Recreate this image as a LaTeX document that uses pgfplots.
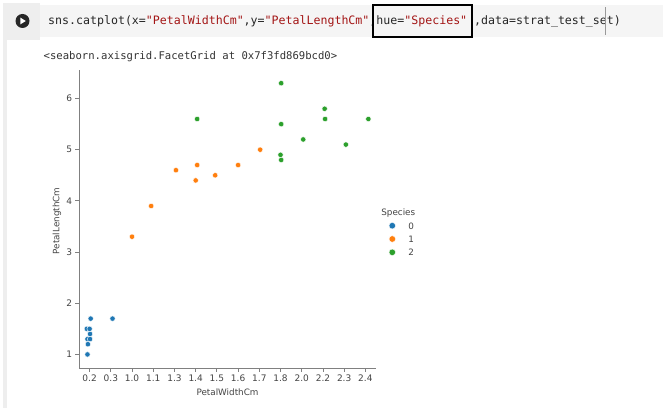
\documentclass[border=0pt]{standalone}
\usepackage{pgfplots}
\pgfplotsset{compat=1.18}
\usepackage{fontspec}
\setmainfont{DejaVu Sans}
\setmonofont{DejaVu Sans Mono}
\definecolor{c0}{HTML}{1F77B4}
\definecolor{c1}{HTML}{FF7F0E}
\definecolor{c2}{HTML}{2CA02C}
\definecolor{strc}{HTML}{A31515}
\definecolor{codebg}{HTML}{F5F5F5}
\definecolor{gutter}{HTML}{EEEEEE}
\definecolor{spine}{HTML}{808080}
\definecolor{ticklab}{HTML}{444444}
\begin{document}
\begin{tikzpicture}
\path[use as bounding box, fill=white] (0,0) rectangle (663bp,408bp);
\fill[gutter] (3bp,368bp) rectangle (40bp,405bp);
\fill[codebg] (40bp,371bp) rectangle (663bp,403bp);
\fill[gutter] (3bp,0bp) rectangle (7bp,368bp);
\fill[black!85] (22.5bp,387bp) circle (7bp);
\fill[white] (20.3bp,383.6bp) -- (20.3bp,390.4bp) -- (25.8bp,387bp) -- cycle;
\node[anchor=base west, inner sep=0pt, font=\fontsize{11.6bp}{13bp}\ttfamily, text=black!85] at (48bp,383bp)
 {sns.catplot(x=\textcolor{strc}{"PetalWidthCm"},y=\textcolor{strc}{"PetalLengthCm"},hue=\textcolor{strc}{"Species"} ,data=strat\_test\_set)};
\draw[black, line width=1.3bp] (373bp,371bp) rectangle (472bp,403bp);
\draw[black!40, line width=0.5bp] (605bp,373bp) -- (605bp,401bp);
\node[anchor=base west, inner sep=0pt, font=\fontsize{10.6bp}{12bp}\ttfamily, text=black!80] at (43.5bp,348bp)
 {<seaborn.axisgrid.FacetGrid at 0x7f3fd869bcd0>};
\node[anchor=base, inner sep=0pt, font=\fontsize{8.8bp}{10bp}\selectfont, text=ticklab] at (398.3bp,192.5bp) {Species};
\begin{axis}[
  at={(79bp,40bp)}, anchor=south west, scale only axis,
  width=297bp, height=298.4bp,
  xmin=-0.5, xmax=13.5, ymin=0.735, ymax=6.565,
  axis x line*=bottom, axis y line*=left,
  axis line style={spine, line width=0.9bp, -},
  xtick={0,...,13},
  xticklabels={0.2,0.3,1.0,1.1,1.3,1.4,1.5,1.6,1.7,1.8,2.0,2.2,2.3,2.4},
  ytick={1,...,6},
  tick align=outside, major tick length=3.5bp,
  tick style={spine, line width=0.8bp},
  ticklabel style={font=\fontsize{9bp}{10bp}\selectfont, text=ticklab},
  /pgf/number format/assume math mode=true,
  xlabel={PetalWidthCm}, ylabel={PetalLengthCm},
  label style={font=\fontsize{8.8bp}{10bp}\selectfont, text=ticklab},
  xlabel style={at={(axis description cs:0.5,-0.0828)}, anchor=center},
  ylabel style={at={(axis description cs:-0.0741,0.4926)}, anchor=center},
  legend cell align=left,
  legend style={at={(axis description cs:1.038,0.4886)}, anchor=north west,
    draw=none, fill=none, inner sep=0pt, outer sep=0pt,
    row sep=6.3bp, column sep=11.2bp,
    font=\fontsize{8.8bp}{10bp}\selectfont, text=ticklab,
    nodes={inner sep=0pt, text height=6.6bp, text depth=0bp}},
  legend image code/.code={\draw[#1, mark size=3.3bp] plot coordinates {(0bp,0bp)}; \path[draw=none, fill=none] (-5bp,-3.5bp) rectangle (5bp,3.5bp);},
  every axis plot/.append style={only marks, mark=*, mark size=2.7bp},
]
\addplot[mark options={draw=white, line width=0.4bp, fill=c0}] coordinates {
(0.05,1.7) (-0.13,1.5) (0.0,1.5) (0.02,1.4) (-0.1,1.3) (0.02,1.3) (-0.08,1.2) (-0.1,1.0) (1.08,1.7)};
\addlegendentry{0}
\addplot[mark options={draw=white, line width=0.4bp, fill=c1}] coordinates {
(2.0,3.3) (2.9,3.9) (4.07,4.6) (5.07,4.7) (5.0,4.4) (5.92,4.5) (7.0,4.7) (8.04,5.0)};
\addlegendentry{1}
\addplot[mark options={draw=white, line width=0.4bp, fill=c2}] coordinates {
(5.07,5.6) (9.03,6.3) (9.03,5.5) (9.0,4.9) (9.03,4.8) (10.07,5.2) (11.08,5.8) (11.1,5.6) (12.08,5.1) (13.14,5.6)};
\addlegendentry{2}
\end{axis}
\end{tikzpicture}
\end{document}
